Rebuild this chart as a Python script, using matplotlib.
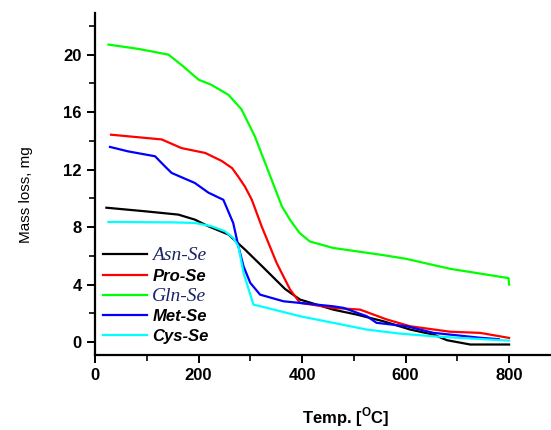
import numpy as np
import matplotlib; matplotlib.use("Agg")
import matplotlib.pyplot as plt
from matplotlib.ticker import MultipleLocator

plt.rcParams.update({
    "font.family": "Liberation Sans", "font.weight": "bold", "font.size": 12,
    "mathtext.fontset": "custom", "mathtext.bf": "Liberation Sans:bold",
    "mathtext.rm": "Liberation Sans:bold",
    "axes.linewidth": 1.6, "xtick.major.width": 1.4, "ytick.major.width": 1.4,
    "xtick.minor.width": 1.2, "ytick.minor.width": 1.2,
})

# TGA curves (temperature °C, mass loss mg)
asn_t = [22, 97, 161, 193, 219, 258, 290, 325, 367, 396, 460, 506, 557, 609, 654, 680, 725, 800]
asn_m = [9.35, 9.1, 8.87, 8.52, 8.06, 7.48, 6.43, 5.2, 3.7, 2.96, 2.26, 1.91, 1.45, 0.87, 0.52, 0.13, -0.17, -0.17]

pro_t = [31, 129, 167, 213, 245, 265, 277, 290, 303, 322, 351, 377, 396, 460, 512, 564, 609, 686, 744, 800]
pro_m = [14.43, 14.1, 13.5, 13.16, 12.6, 12.1, 11.5, 10.8, 9.9, 8.05, 5.5, 3.65, 2.73, 2.38, 2.26, 1.57, 1.1, 0.72, 0.64, 0.29]

gln_t = [26, 84, 142, 170, 200, 225, 258, 283, 309, 338, 361, 377, 395, 415, 460, 557, 600, 686, 799, 800]
gln_m = [20.7, 20.4, 20.0, 19.2, 18.26, 17.9, 17.2, 16.2, 14.3, 11.6, 9.45, 8.5, 7.6, 7.0, 6.55, 6.05, 5.8, 5.1, 4.45, 4.0]

met_t = [29, 64, 116, 135, 148, 193, 219, 248, 267, 277, 287, 300, 319, 364, 460, 480, 525, 544, 602, 654, 686, 744, 780]
met_m = [13.58, 13.27, 12.93, 12.23, 11.77, 11.07, 10.4, 9.9, 8.29, 6.67, 5.27, 4.12, 3.3, 2.84, 2.49, 2.38, 1.8, 1.34, 1.1, 0.64, 0.52, 0.3, 0.2]

cys_t = [26, 148, 193, 225, 251, 267, 277, 287, 306, 332, 396, 460, 525, 589, 654, 700, 800]
cys_m = [8.36, 8.33, 8.29, 8.06, 7.71, 7.25, 6.67, 4.81, 2.61, 2.38, 1.8, 1.34, 0.87, 0.59, 0.4, 0.3, 0.1]

SERIES = [
    (asn_t, asn_m, "#000000", "Asn-Se"),
    (pro_t, pro_m, "#ff0000", "Pro-Se"),
    (gln_t, gln_m, "#00ff00", "Gln-Se"),
    (met_t, met_m, "#0000ff", "Met-Se"),
    (cys_t, cys_m, "#00ffff", "Cys-Se"),
]

fig = plt.figure(figsize=(5.51, 4.30), dpi=100)
ax = fig.add_axes([0.1724, 0.1744, 0.8276, 0.7954])

for t, m, c, lbl in SERIES:
    ax.plot(t, m, color=c, lw=1.6, label=lbl, solid_joinstyle="round")

ax.set_xlim(0, 881)
ax.set_ylim(-0.9, 22.9)
ax.xaxis.set_major_locator(MultipleLocator(200))
ax.xaxis.set_minor_locator(MultipleLocator(100))
ax.yaxis.set_major_locator(MultipleLocator(4))
ax.yaxis.set_minor_locator(MultipleLocator(2))
ax.tick_params(which="major", direction="out", length=6)
ax.tick_params(which="minor", direction="out", length=4)
ax.spines["top"].set_visible(False)
ax.spines["right"].set_visible(False)

ax.set_xlabel(r"Temp. [$^{\mathbf{O}}$C]", fontsize=12, fontweight="bold")
ax.xaxis.set_label_coords(0.55, -0.148)
ax.set_ylabel("Mass loss, mg", fontsize=11, fontweight="normal")
ax.yaxis.set_label_coords(-0.135, 0.47)

leg = ax.legend(frameon=False, loc="upper left", bbox_to_anchor=(0.018, 0.315),
                borderaxespad=0, borderpad=0, handlelength=2.6, handletextpad=0.35,
                labelspacing=0.26, fontsize=12)
for txt in leg.get_texts():
    if txt.get_text() in ("Asn-Se", "Gln-Se"):
        txt.set_family("Liberation Serif"); txt.set_style("italic")
        txt.set_weight("normal"); txt.set_color("#1c2466"); txt.set_fontsize(14)
    else:
        txt.set_style("italic"); txt.set_weight("bold")

fig.savefig("out.png", dpi=100, facecolor="white")
